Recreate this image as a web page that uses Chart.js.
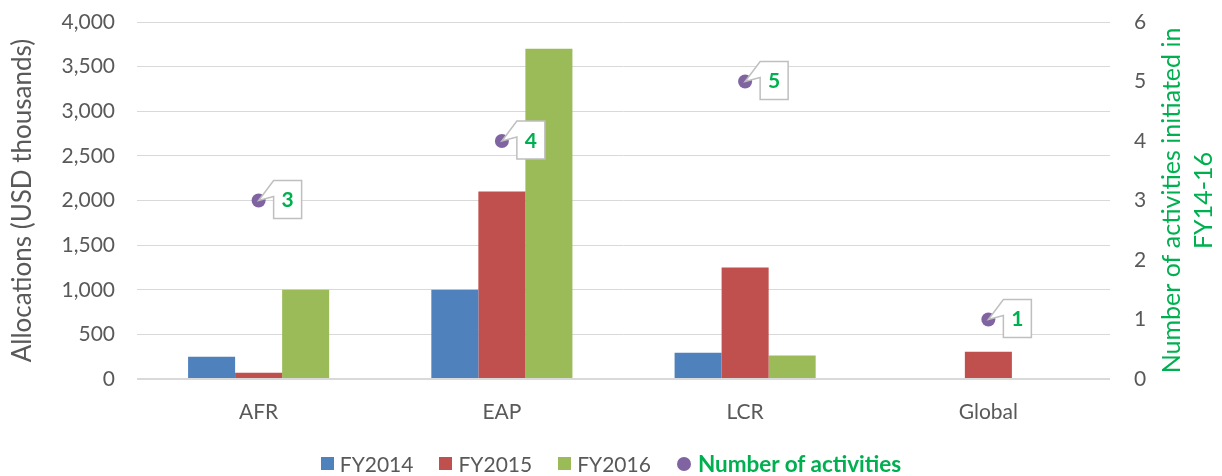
<!DOCTYPE html>
<html>
<head>
<meta charset="utf-8">
<script src="https://cdn.jsdelivr.net/npm/chart.js@4/dist/chart.umd.min.js"></script>
<style>
  html, body { margin: 0; padding: 0; background: #fff; }
  #wrap { position: relative; width: 1222px; height: 476px; }
  #legend {
    position: absolute; left: 0; top: 450px; width: 1222px;
    display: flex; justify-content: center; align-items: center;
    font-family: Lato, "Open Sans", sans-serif; font-size: 21px; color: #595959;
  }
  #legend .item { display: flex; align-items: center; margin: 0 13px; }
  #legend .sw { width: 13px; height: 13px; margin-right: 6px; }
  #legend .dot { width: 14px; height: 14px; border-radius: 50%; margin-right: 7px; }
  #legend .bold { font-weight: bold; color: #00B050; font-size: 22.5px; }
</style>
</head>
<body>
<div id="wrap">
  <canvas id="chart"></canvas>
  <div id="legend"></div>
</div>
<script>
const regions = ["AFR", "EAP", "LCR", "Global"]
const fy2014 = [250, 1000, 295, 0]
const fy2015 = [70, 2100, 1250, 305]
const fy2016 = [1000, 3700, 262, 0]
const activities = [3, 4, 5, 1]

const font = "Lato, 'Open Sans', sans-serif"
const grey = "#595959"
const green = "#00B050"

const series = [
  { label: "FY2014", data: fy2014, color: "#4F81BD" },
  { label: "FY2015", data: fy2015, color: "#C0504D" },
  { label: "FY2016", data: fy2016, color: "#9BBB59" },
]

// callout boxes next to the activity points
const callouts = {
  id: "callouts",
  afterDatasetsDraw(chart) {
    const meta = chart.getDatasetMeta(3)
    const ctx = chart.ctx
    meta.data.forEach((pt, i) => {
      const px = pt.x
      const py = pt.y
      const bx = px + 15
      const by = py - 20
      const w = 28
      const h = 38
      ctx.save()
      ctx.beginPath()
      ctx.moveTo(bx, by)
      ctx.lineTo(bx + w, by)
      ctx.lineTo(bx + w, by + h)
      ctx.lineTo(bx, by + h)
      ctx.lineTo(bx, by + 16)
      ctx.lineTo(px, py)
      ctx.closePath()
      ctx.fillStyle = "#fff"
      ctx.fill()
      ctx.strokeStyle = "#BFBFBF"
      ctx.lineWidth = 1.5
      ctx.stroke()
      ctx.fillStyle = green
      ctx.font = "bold 21px " + font
      ctx.textAlign = "center"
      ctx.textBaseline = "middle"
      ctx.fillText(String(activities[i]), bx + w / 2, by + h / 2 + 1)
      ctx.restore()
    })
  },
}

// right axis title, reading bottom to top like the left one
const rightTitle = {
  id: "rightTitle",
  afterDraw(chart) {
    const ctx = chart.ctx
    const area = chart.chartArea
    const cy = (area.top + area.bottom) / 2
    const lines = ["Number of activities initiated in", "FY14-16"]
    const xs = [chart.width - 50, chart.width - 18]
    ctx.save()
    ctx.fillStyle = green
    ctx.font = "25px " + font
    ctx.textAlign = "center"
    ctx.textBaseline = "middle"
    lines.forEach((t, i) => {
      ctx.save()
      ctx.translate(xs[i], cy)
      ctx.rotate(-Math.PI / 2)
      ctx.fillText(t, 0, 0)
      ctx.restore()
    })
    ctx.restore()
  },
}

const datasets = series.map((s) => ({
  type: "bar",
  label: s.label,
  data: s.data,
  backgroundColor: s.color,
  borderWidth: 0,
  barPercentage: 1,
  categoryPercentage: 0.58,
  yAxisID: "y",
  order: 2,
}))

datasets.push({
  type: "line",
  label: "Number of activities",
  data: activities,
  showLine: false,
  pointRadius: 7,
  pointHoverRadius: 7,
  pointBackgroundColor: "#8064A2",
  pointBorderWidth: 0,
  yAxisID: "y1",
  order: 1,
})

const fitSide = (w) => (scale) => {
  scale.width = w
  scale.paddingTop = 0
  scale.paddingBottom = 0
}

new Chart(document.getElementById("chart"), {
  data: { labels: regions, datasets },
  options: {
    responsive: true,
    maintainAspectRatio: false,
    animation: false,
    layout: { padding: { top: 22, left: 0, right: 0, bottom: 0 } },
    plugins: {
      legend: { display: false },
      tooltip: { enabled: false },
    },
    scales: {
      x: {
        grid: { display: false },
        border: { display: false },
        ticks: { color: grey, font: { family: font, size: 21 }, padding: 13 },
        afterFit: (scale) => { scale.height = 97 },
      },
      y: {
        position: "left",
        min: 0,
        max: 4000,
        ticks: {
          stepSize: 500,
          color: grey,
          font: { family: font, size: 21 },
          padding: 22,
          callback: (v) => v.toLocaleString("en-US"),
        },
        grid: {
          color: "#D9D9D9",
          lineWidth: (c) => (c.index === 0 ? 2 : 1),
          drawTicks: false,
        },
        border: { display: false },
        title: {
          display: true,
          text: "Allocations (USD thousands)",
          color: grey,
          font: { family: font, size: 26 },
          padding: { top: 7, bottom: 0 },
        },
        afterFit: fitSide(137),
      },
      y1: {
        position: "right",
        min: 0,
        max: 6,
        ticks: {
          stepSize: 1,
          color: grey,
          font: { family: font, size: 21 },
          padding: 24,
        },
        grid: { display: false, drawTicks: false },
        border: { display: false },
        afterFit: fitSide(112),
      },
    },
  },
  plugins: [callouts, rightTitle],
})

// legend
const legend = document.getElementById("legend")
series.forEach((s) => {
  const item = document.createElement("div")
  item.className = "item"
  item.innerHTML = `<span class="sw" style="background:${s.color}"></span><span>${s.label}</span>`
  legend.appendChild(item)
})
const last = document.createElement("div")
last.className = "item"
last.innerHTML = `<span class="dot" style="background:#8064A2"></span><span class="bold">Number of activities</span>`
legend.appendChild(last)
</script>
</body>
</html>
